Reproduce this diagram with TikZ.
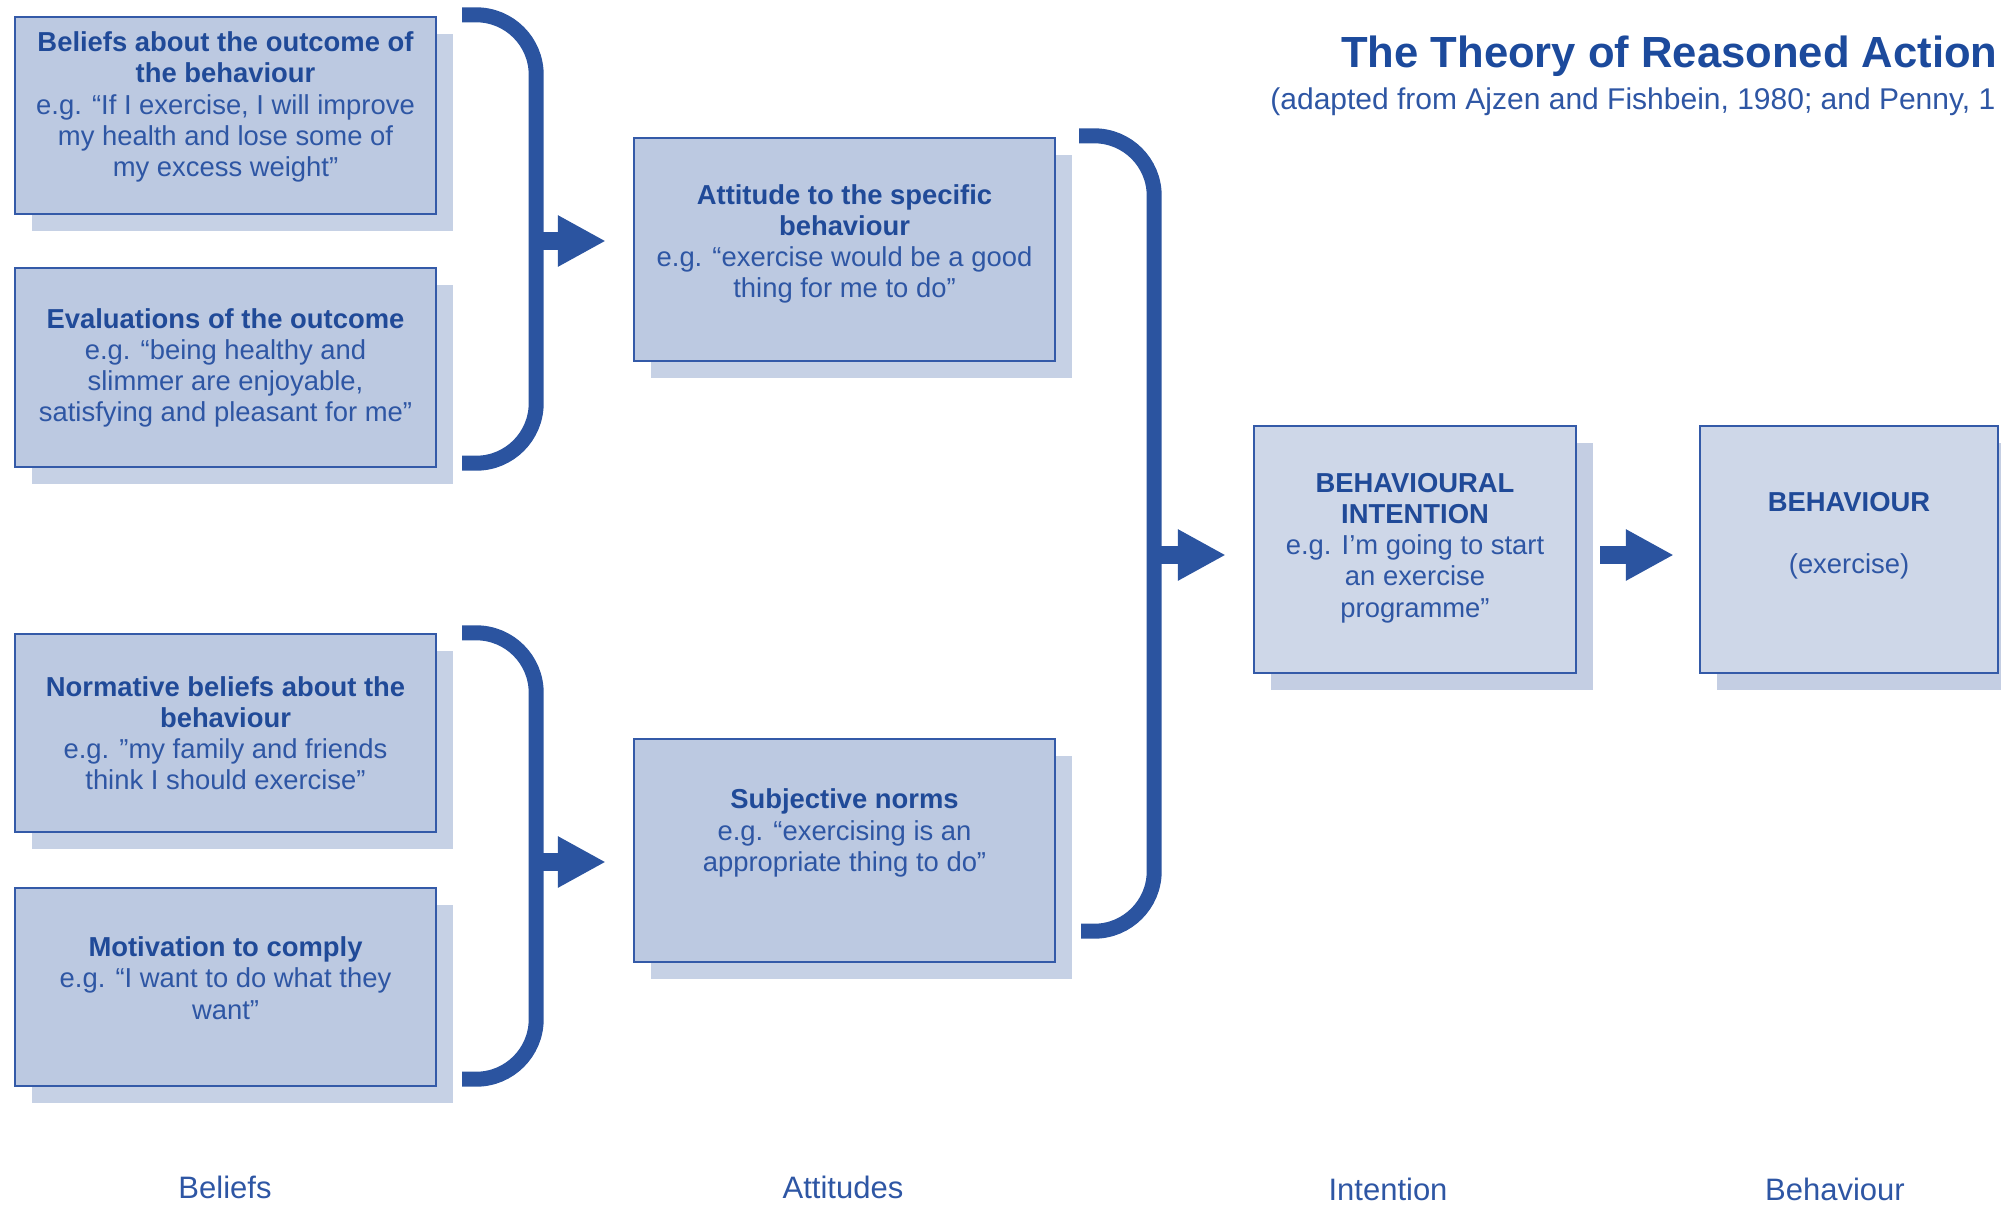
\documentclass[tikz,border=0pt]{standalone}
\usepackage{fontspec}
\setmainfont{Liberation Sans}
\usetikzlibrary{arrows.meta,shadows}
\definecolor{brk}{RGB}{43,84,160}
\definecolor{bordc}{RGB}{52,90,168}
\definecolor{fillA}{RGB}{188,201,225}
\definecolor{shA}{RGB}{198,209,229}
\definecolor{fillB}{RGB}{206,215,232}
\definecolor{shB}{RGB}{196,206,227}
\definecolor{txtc}{RGB}{46,86,164}
\definecolor{boldc}{RGB}{32,74,152}
\definecolor{titc}{RGB}{28,74,156}
\newcommand\bhd[1]{{\bfseries\color{boldc}#1}}
\tikzset{
  boxA/.style={draw=bordc, line width=1.2pt, fill=fillA, inner sep=0pt,
    drop shadow={shadow xshift=8.5pt, shadow yshift=-8.5pt, fill=shA, opacity=1}},
  boxB/.style={draw=bordc, line width=1.2pt, fill=fillB, inner sep=0pt,
    drop shadow={shadow xshift=8.5pt, shadow yshift=-8.5pt, fill=shB, opacity=1}},
  txt/.style={align=center, text=txtc, font=\fontsize{13.7}{15.6}\selectfont, inner sep=0pt},
  brace/.style={draw=brk, line width=7.5pt, rounded corners=30pt},
  arr/.style={draw=brk, line width=9pt, -{Triangle[length=24pt,width=24pt]}},
  lab/.style={text=txtc, font=\fontsize{15.5}{18}\selectfont, inner sep=0pt},
}
\begin{document}
\begin{tikzpicture}[x=0.5pt,y=-0.5pt]
\useasboundingbox (0,0) rectangle (2001,1205);
\clip (0,0) rectangle (2001,1205);
% boxes
\node[boxA, minimum width=210.5pt, minimum height=98.5pt] (b1) at (225.5,115.5) {};
\node[boxA, minimum width=210.5pt, minimum height=99.5pt] (b2) at (225.5,367.5) {};
\node[boxA, minimum width=210.5pt, minimum height=99pt] (b4) at (225.5,733) {};
\node[boxA, minimum width=210.5pt, minimum height=99pt] (b5) at (225.5,987) {};
\node[boxA, minimum width=210.5pt, minimum height=111.5pt] (b3) at (844.5,249.5) {};
\node[boxA, minimum width=210.5pt, minimum height=111.5pt] (b6) at (844.5,850.5) {};
\node[boxB, minimum width=161pt, minimum height=123.5pt] (b7) at (1415,549.5) {};
\node[boxB, minimum width=149pt, minimum height=123.5pt] (b8) at (1849,549.5) {};
% brackets
\draw[brace] ([xshift=12.5pt,yshift=0.5pt]b1.north east) -- ([xshift=49.5pt,yshift=0.5pt]b1.north east)
  -- ([xshift=49.5pt,yshift=2.5pt]b2.south east) -- ([xshift=12.5pt,yshift=2.5pt]b2.south east);
\draw[brace] ([xshift=12.5pt]b4.north east) -- ([xshift=49.5pt]b4.north east)
  -- ([xshift=49.5pt,yshift=4pt]b5.south east) -- ([xshift=12.5pt,yshift=4pt]b5.south east);
\draw[brace] ([xshift=11.5pt,yshift=0.5pt]b3.north east) -- ([xshift=49pt,yshift=0.5pt]b3.north east)
  -- ([xshift=49pt,yshift=16pt]b6.south east) -- ([xshift=12.5pt,yshift=16pt]b6.south east);
% arrows
\coordinate (m1) at (535,241);
\coordinate (m2) at (535,862);
\coordinate (m3) at (1153,555);
\draw[arr, shorten >=13.5pt] (m1) -- (m1 -| b3.west);
\draw[arr, shorten >=13.5pt] (m2) -- (m2 -| b6.west);
\draw[arr, shorten >=13.5pt] (m3) -- (m3 -| b7.west);
\draw[arr, shorten <=11.5pt, shorten >=12.5pt] (m3 -| b7.east) -- (m3 -| b8.west);
% texts
\node[txt] (t1) at (225.5,107) {\bhd{Beliefs about the outcome of}\\\bhd{the behaviour}\\e.g. “If I exercise, I will improve\\my health and lose some of\\my excess weight”};
\node[txt] (t2) at (225.5,368) {\bhd{Evaluations of the outcome}\\e.g. “being healthy and\\slimmer are enjoyable,\\satisfying and pleasant for me”};
\node[txt] (t3) at (844.5,244) {\bhd{Attitude to the specific}\\\bhd{behaviour}\\e.g. “exercise would be a good\\thing for me to do”};
\node[txt] (t4) at (225.5,733) {\bhd{Normative beliefs about the}\\\bhd{behaviour}\\e.g. ”my family and friends\\think I should exercise”};
\node[txt] (t5) at (225.5,978) {\bhd{Motivation to comply}\\e.g. “I want to do what they\\want”};
\node[txt] (t6) at (844.5,833) {\bhd{Subjective norms}\\e.g. “exercising is an\\appropriate thing to do”};
\node[txt] (t7) at (1415,548) {\bhd{BEHAVIOURAL}\\\bhd{INTENTION}\\e.g. I’m going to start\\an exercise\\programme”};
\node[txt] (t8) at (1849,536) {\bhd{BEHAVIOUR}\\[15.6pt](exercise)};
% title
\node[anchor=east, inner sep=0pt, text=titc, font=\bfseries\fontsize{21.8}{26}\selectfont] (title) at (1998,56) {The Theory of Reasoned Action};
\node[anchor=west, inner sep=0pt, text=txtc, font=\fontsize{15}{18}\selectfont] (sub) at (1270,102) {(adapted from Ajzen and Fishbein, 1980; and Penny, 1};
% column labels
\node[lab] (l1) at (225,1187) {Beliefs};
\node[lab] (l2) at (843,1187) {Attitudes};
\node[lab] (l3) at (1388,1189) {Intention};
\node[lab] (l4) at (1835,1189) {Behaviour};
\end{tikzpicture}
\end{document}
